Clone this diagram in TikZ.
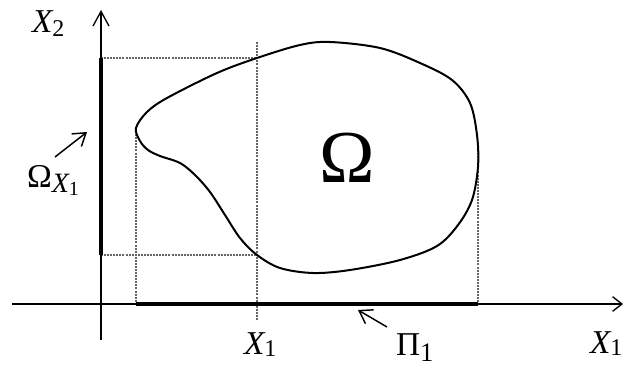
\documentclass[tikz,border=0pt]{standalone}
\usepackage{fontspec}
\setmainfont{Liberation Serif}
\usetikzlibrary{arrows.meta}
\tikzset{
  axis/.style={line width=1pt, black},
  thickseg/.style={line width=2.8pt, black},
  guide/.style={line width=0.9pt, black!60, dash pattern=on 1.5pt off 0.8pt},
  boundary/.style={line width=1.5pt, black},
  ptr/.style={line width=1.1pt, black, -{Straight Barb[length=9pt,width=12pt]}},
  lbl/.style={inner sep=0pt, outer sep=0pt, text=black}
}
\begin{document}
\begin{tikzpicture}[x=0.75pt,y=-0.75pt]
\useasboundingbox (0,0) rectangle (624,367);
% key coordinates
\coordinate (ybot) at (101,340);
\coordinate (ytop) at (101,10);
\coordinate (xleft) at (12,304);
\coordinate (xright) at (623,304);
\coordinate (ya) at (101,58);
\coordinate (yb) at (101,255);
\coordinate (xa) at (136,304);
\coordinate (xb) at (478,304);
% guides
\draw[guide] (ya) -- (257,58);
\draw[guide] (yb) -- (257,255);
\draw[guide] (136,128) -- (xa);
\draw[guide] (257,42) -- (257,320);
\draw[guide] (478,150) -- (xb);
% axes
\draw[axis, -{Straight Barb[length=11pt,width=12pt]}] (ybot) -- (ytop);
\draw[axis, -{Straight Barb[length=7pt,width=11pt]}] (xleft) -- (xright);
% projections
\draw[thickseg] (ya) -- (yb);
\draw[thickseg] (xa) -- (xb);
% domain boundary
\draw[boundary] plot[smooth cycle, tension=0.55] coordinates {
 (136,128) (147,112) (167,98) (217,73) (257,58) (300,45) (330,42) (380,48)
 (420,63) (452,80) (470,103) (477,135) (478,167) (472,200) (458,225)
 (437,246) (400,260) (350,270) (313,273) (280,268) (257,255) (240,238)
 (225,215) (210,192) (195,175) (180,163) (160,156) (148,150) (140,141)};
% labels
\node[lbl, anchor=base west] (lx2) at (32,33)
  {{\fontsize{25}{27}\selectfont\itshape X}{\fontsize{18}{20}\selectfont\raisebox{-2.5pt}{2}}};
\node[lbl, anchor=base west] (lox) at (27,187)
  {{\fontsize{25}{27}\selectfont Ω}\raisebox{-3.75pt}{\fontsize{21}{23}\selectfont\itshape X}\raisebox{-6pt}{\fontsize{15}{16}\selectfont 1}};
\node[lbl, anchor=base] (lom) at (347,182) {\fontsize{56}{60}\selectfont Ω};
\node[lbl, anchor=base west] (lx1) at (244,354)
  {{\fontsize{25}{27}\selectfont\itshape X}{\fontsize{18}{20}\selectfont\raisebox{-1.5pt}{1}}};
\node[lbl, anchor=base west] (lpi) at (396,355)
  {{\fontsize{25}{27}\selectfont Π}{\fontsize{20}{22}\selectfont\raisebox{-5pt}{1}}};
\node[lbl, anchor=base west] (lx1r) at (590,353)
  {{\fontsize{25}{27}\selectfont\itshape X}{\fontsize{18}{20}\selectfont\raisebox{-1.5pt}{1}}};
% pointer arrows
\coordinate (pa1) at (55,157);
\coordinate (pa2) at (87,132);
\coordinate (pb1) at (387,327);
\coordinate (pb2) at (358,310);
\draw[ptr] (pa1) -- (pa2);
\draw[ptr] (pb1) -- (pb2);
\end{tikzpicture}
\end{document}
